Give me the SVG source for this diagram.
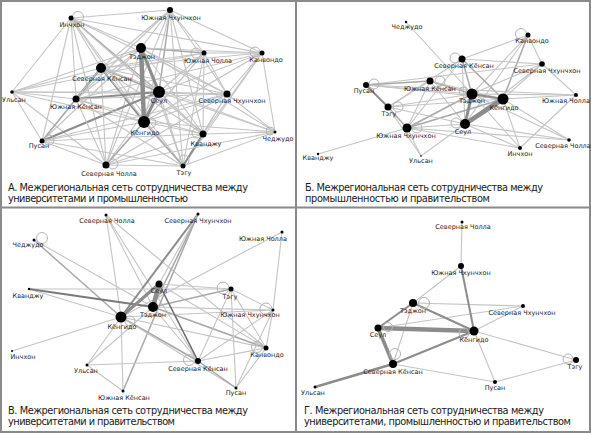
<svg xmlns="http://www.w3.org/2000/svg" width="591" height="433" viewBox="0 0 591 433">
<style>
.l1{stroke:#c4c4c4;stroke-width:1.1}
.l2{stroke:#a8a8a8;stroke-width:1.5}
.l3{stroke:#8c8c8c;stroke-width:2}
.l4{stroke:#8c8c8c;stroke-width:3}
.l5{stroke:#8c8c8c;stroke-width:4.5}
.loop{fill:none;stroke:#b4b4b4;stroke-width:1}
.lb{font-family:"DejaVu Sans",Verdana,sans-serif;font-size:6.5px;fill:#222;text-anchor:middle}
.cap{font-family:"DejaVu Sans",Verdana,sans-serif;font-size:9.8px;fill:#1a1a1a}
.frame{fill:none;stroke:#8a8a8a;stroke-width:2}
</style>
<rect x="0" y="0" width="591" height="433" fill="#fff"/>
<g id="frame">
<rect class="frame" x="1" y="1" width="589" height="431"/>
<line class="frame" x1="296" y1="0" x2="296" y2="433"/>
<line class="frame" x1="0" y1="207.5" x2="591" y2="207.5"/>
</g>

<g id="connectors-a">
<line class="l1" x1="71" y1="18" x2="170" y2="10"/>
<line class="l1" x1="71" y1="18" x2="262" y2="53"/>
<line class="l1" x1="71" y1="18" x2="141" y2="48"/>
<line class="l1" x1="71" y1="18" x2="101" y2="68"/>
<line class="l1" x1="71" y1="18" x2="12" y2="92"/>
<line class="l1" x1="71" y1="18" x2="42" y2="141"/>
<line class="l1" x1="71" y1="18" x2="106" y2="165"/>
<line class="l1" x1="71" y1="18" x2="76" y2="99"/>
<line class="l2" x1="71" y1="18" x2="159" y2="92"/>
<line class="l1" x1="71" y1="18" x2="144" y2="122"/>
<line class="l1" x1="71" y1="18" x2="227" y2="94"/>
<line class="l1" x1="71" y1="18" x2="203" y2="134"/>
<line class="l1" x1="71" y1="18" x2="183" y2="166"/>
<line class="l1" x1="170" y1="10" x2="262" y2="53"/>
<line class="l1" x1="170" y1="10" x2="141" y2="48"/>
<line class="l2" x1="170" y1="10" x2="159" y2="92"/>
<line class="l1" x1="170" y1="10" x2="144" y2="122"/>
<line class="l1" x1="170" y1="10" x2="101" y2="68"/>
<line class="l1" x1="170" y1="10" x2="203" y2="134"/>
<line class="l1" x1="170" y1="10" x2="183" y2="166"/>
<line class="l1" x1="170" y1="10" x2="106" y2="165"/>
<line class="l1" x1="170" y1="10" x2="227" y2="94"/>
<line class="l1" x1="170" y1="10" x2="76" y2="99"/>
<line class="l1" x1="170" y1="10" x2="204" y2="53"/>
<line class="l2" x1="141" y1="48" x2="204" y2="53"/>
<line class="l1" x1="141" y1="48" x2="262" y2="53"/>
<line class="l1" x1="141" y1="48" x2="101" y2="68"/>
<line class="l1" x1="141" y1="48" x2="227" y2="94"/>
<line class="l1" x1="141" y1="48" x2="203" y2="134"/>
<line class="l1" x1="141" y1="48" x2="42" y2="141"/>
<line class="l1" x1="141" y1="48" x2="76" y2="99"/>
<line class="l1" x1="141" y1="48" x2="12" y2="92"/>
<line class="l1" x1="141" y1="48" x2="183" y2="166"/>
<line class="l1" x1="141" y1="48" x2="106" y2="165"/>
<line class="l1" x1="141" y1="48" x2="275" y2="132"/>
<line class="l1" x1="204" y1="53" x2="262" y2="53"/>
<line class="l1" x1="204" y1="53" x2="101" y2="68"/>
<line class="l1" x1="204" y1="53" x2="203" y2="134"/>
<line class="l1" x1="204" y1="53" x2="159" y2="92"/>
<line class="l1" x1="204" y1="53" x2="144" y2="122"/>
<line class="l1" x1="204" y1="53" x2="227" y2="94"/>
<line class="l1" x1="204" y1="53" x2="183" y2="166"/>
<line class="l1" x1="204" y1="53" x2="12" y2="92"/>
<line class="l1" x1="204" y1="53" x2="106" y2="165"/>
<line class="l1" x1="262" y1="53" x2="159" y2="92"/>
<line class="l1" x1="262" y1="53" x2="227" y2="94"/>
<line class="l1" x1="262" y1="53" x2="203" y2="134"/>
<line class="l1" x1="262" y1="53" x2="275" y2="132"/>
<line class="l1" x1="262" y1="53" x2="144" y2="122"/>
<line class="l1" x1="262" y1="53" x2="183" y2="166"/>
<line class="l1" x1="262" y1="53" x2="101" y2="68"/>
<line class="l1" x1="262" y1="53" x2="76" y2="99"/>
<line class="l1" x1="101" y1="68" x2="12" y2="92"/>
<line class="l2" x1="101" y1="68" x2="159" y2="92"/>
<line class="l3" x1="101" y1="68" x2="76" y2="99"/>
<line class="l3" x1="101" y1="68" x2="144" y2="122"/>
<line class="l1" x1="101" y1="68" x2="227" y2="94"/>
<line class="l1" x1="101" y1="68" x2="42" y2="141"/>
<line class="l1" x1="101" y1="68" x2="203" y2="134"/>
<line class="l1" x1="101" y1="68" x2="106" y2="165"/>
<line class="l1" x1="101" y1="68" x2="183" y2="166"/>
<line class="l1" x1="101" y1="68" x2="275" y2="132"/>
<line class="l1" x1="12" y1="92" x2="159" y2="92"/>
<line class="l1" x1="12" y1="92" x2="76" y2="99"/>
<line class="l1" x1="12" y1="92" x2="42" y2="141"/>
<line class="l1" x1="12" y1="92" x2="106" y2="165"/>
<line class="l1" x1="12" y1="92" x2="144" y2="122"/>
<line class="l1" x1="12" y1="92" x2="227" y2="94"/>
<line class="l3" x1="159" y1="92" x2="76" y2="99"/>
<line class="l1" x1="159" y1="92" x2="227" y2="94"/>
<line class="l1" x1="159" y1="92" x2="203" y2="134"/>
<line class="l1" x1="159" y1="92" x2="275" y2="132"/>
<line class="l3" x1="159" y1="92" x2="42" y2="141"/>
<line class="l1" x1="159" y1="92" x2="106" y2="165"/>
<line class="l1" x1="159" y1="92" x2="183" y2="166"/>
<line class="l1" x1="76" y1="99" x2="144" y2="122"/>
<line class="l2" x1="76" y1="99" x2="42" y2="141"/>
<line class="l1" x1="76" y1="99" x2="106" y2="165"/>
<line class="l1" x1="76" y1="99" x2="203" y2="134"/>
<line class="l1" x1="76" y1="99" x2="227" y2="94"/>
<line class="l1" x1="76" y1="99" x2="183" y2="166"/>
<line class="l1" x1="227" y1="94" x2="144" y2="122"/>
<line class="l1" x1="227" y1="94" x2="203" y2="134"/>
<line class="l1" x1="227" y1="94" x2="275" y2="132"/>
<line class="l1" x1="227" y1="94" x2="42" y2="141"/>
<line class="l1" x1="227" y1="94" x2="106" y2="165"/>
<line class="l1" x1="227" y1="94" x2="183" y2="166"/>
<line class="l1" x1="144" y1="122" x2="42" y2="141"/>
<line class="l1" x1="144" y1="122" x2="203" y2="134"/>
<line class="l1" x1="144" y1="122" x2="275" y2="132"/>
<line class="l2" x1="144" y1="122" x2="106" y2="165"/>
<line class="l2" x1="144" y1="122" x2="183" y2="166"/>
<line class="l1" x1="42" y1="141" x2="106" y2="165"/>
<line class="l1" x1="42" y1="141" x2="203" y2="134"/>
<line class="l1" x1="42" y1="141" x2="183" y2="166"/>
<line class="l3" x1="203" y1="134" x2="183" y2="166"/>
<line class="l1" x1="203" y1="134" x2="275" y2="132"/>
<line class="l1" x1="203" y1="134" x2="106" y2="165"/>
<line class="l1" x1="275" y1="132" x2="183" y2="166"/>
<line class="l1" x1="275" y1="132" x2="106" y2="165"/>
<line class="l1" x1="106" y1="165" x2="183" y2="166"/>
<line class="l5" x1="141" y1="48" x2="144" y2="122"/>
<line class="l4" x1="141" y1="48" x2="159" y2="92"/>
<line class="l4" x1="159" y1="92" x2="144" y2="122"/>
<circle class="loop" cx="78" cy="17" r="5.5"/>
<circle class="loop" cx="196" cy="53" r="5"/>
<circle class="loop" cx="255" cy="52" r="5"/>
<circle class="loop" cx="49" cy="140" r="5"/>
<circle class="loop" cx="197" cy="133" r="5"/>
<circle class="loop" cx="270" cy="131" r="4"/>
<circle class="loop" cx="113" cy="164" r="5"/>
<circle class="loop" cx="184" cy="160" r="5"/>
<circle class="loop" cx="151" cy="123" r="5"/>
</g>

<g id="a-incheon"><circle cx="71" cy="18" r="2.5"/><text class="lb" x="72" y="27">Инчхон</text></g>
<g id="a-south-chungcheong"><circle cx="170" cy="10" r="3"/><text class="lb" x="171" y="20">Южная Чхунчхон</text></g>
<g id="a-daejeon"><circle cx="141" cy="48" r="5"/><text class="lb" x="142" y="59">Тэджон</text></g>
<g id="a-south-jeolla"><circle cx="204" cy="53" r="2.5"/><text class="lb" x="208" y="63">Южная Чолла</text></g>
<g id="a-gangwon"><circle cx="262" cy="53" r="2.5"/><text class="lb" x="266" y="62">Канвондо</text></g>
<g id="a-north-gyeongsang"><circle cx="101" cy="68" r="5"/><text class="lb" x="102" y="81">Северная Кёнсан</text></g>
<g id="a-ulsan"><circle cx="12" cy="92" r="1.8"/><text class="lb" x="14" y="102">Ульсан</text></g>
<g id="a-seoul"><circle cx="159" cy="92" r="6"/><text class="lb" x="159" y="103">Сеул</text></g>
<g id="a-south-gyeongsang"><circle cx="76" cy="99" r="3.5"/><text class="lb" x="76" y="109">Южная Кёнсан</text></g>
<g id="a-north-chungcheong"><circle cx="227" cy="94" r="3.5"/><text class="lb" x="232" y="103">Северная Чхунчхон</text></g>
<g id="a-gyeonggi"><circle cx="144" cy="122" r="6"/><text class="lb" x="145" y="135">Кёнгидо</text></g>
<g id="a-busan"><circle cx="42" cy="141" r="2.5"/><text class="lb" x="39" y="148">Пусан</text></g>
<g id="a-gwangju"><circle cx="203" cy="134" r="3.5"/><text class="lb" x="206" y="146">Кванджу</text></g>
<g id="a-jeju"><circle cx="275" cy="132" r="1.5"/><text class="lb" x="278" y="141">Чеджудо</text></g>
<g id="a-north-jeolla"><circle cx="106" cy="165" r="3.5"/><text class="lb" x="109" y="176">Северная Чолла</text></g>
<g id="a-daegu"><circle cx="183" cy="166" r="2.5"/><text class="lb" x="184" y="175">Тэгу</text></g>
<g id="caption-a">
<text class="cap" x="8" y="191" textLength="240">А. Межрегиональная сеть сотрудничества между</text>
<text class="cap" x="8" y="201.5" textLength="180">университетами и промышленностью</text>
</g>

<g id="connectors-b">
<line class="l1" x1="406" y1="22" x2="472" y2="94"/>
<line class="l1" x1="528" y1="35" x2="462" y2="59"/>
<line class="l1" x1="528" y1="35" x2="472" y2="94"/>
<line class="l2" x1="528" y1="35" x2="503" y2="99"/>
<line class="l1" x1="528" y1="35" x2="542" y2="64"/>
<line class="l1" x1="528" y1="35" x2="465" y2="124"/>
<line class="l1" x1="462" y1="59" x2="542" y2="64"/>
<line class="l2" x1="462" y1="59" x2="472" y2="94"/>
<line class="l2" x1="462" y1="59" x2="503" y2="99"/>
<line class="l1" x1="462" y1="59" x2="465" y2="124"/>
<line class="l1" x1="462" y1="59" x2="407" y2="128"/>
<line class="l1" x1="462" y1="59" x2="388" y2="107"/>
<line class="l1" x1="542" y1="64" x2="366" y2="85"/>
<line class="l1" x1="542" y1="64" x2="503" y2="99"/>
<line class="l1" x1="542" y1="64" x2="472" y2="94"/>
<line class="l1" x1="542" y1="64" x2="465" y2="124"/>
<line class="l1" x1="542" y1="64" x2="576" y2="95"/>
<line class="l2" x1="430" y1="81" x2="366" y2="85"/>
<line class="l2" x1="430" y1="81" x2="472" y2="94"/>
<line class="l1" x1="430" y1="81" x2="503" y2="99"/>
<line class="l1" x1="430" y1="81" x2="465" y2="124"/>
<line class="l1" x1="430" y1="81" x2="407" y2="128"/>
<line class="l1" x1="430" y1="81" x2="388" y2="107"/>
<line class="l3" x1="366" y1="85" x2="388" y2="107"/>
<line class="l1" x1="366" y1="85" x2="503" y2="99"/>
<line class="l1" x1="366" y1="85" x2="472" y2="94"/>
<line class="l1" x1="366" y1="85" x2="576" y2="95"/>
<line class="l1" x1="503" y1="99" x2="576" y2="95"/>
<line class="l1" x1="503" y1="99" x2="569" y2="140"/>
<line class="l1" x1="503" y1="99" x2="520" y2="148"/>
<line class="l2" x1="503" y1="99" x2="407" y2="128"/>
<line class="l1" x1="472" y1="94" x2="388" y2="107"/>
<line class="l2" x1="472" y1="94" x2="407" y2="128"/>
<line class="l1" x1="472" y1="94" x2="520" y2="148"/>
<line class="l1" x1="472" y1="94" x2="569" y2="140"/>
<line class="l1" x1="472" y1="94" x2="576" y2="95"/>
<line class="l1" x1="465" y1="124" x2="407" y2="128"/>
<line class="l1" x1="465" y1="124" x2="520" y2="148"/>
<line class="l1" x1="465" y1="124" x2="569" y2="140"/>
<line class="l1" x1="465" y1="124" x2="421" y2="156"/>
<line class="l1" x1="465" y1="124" x2="388" y2="107"/>
<line class="l2" x1="388" y1="107" x2="407" y2="128"/>
<line class="l1" x1="388" y1="107" x2="503" y2="99"/>
<line class="l1" x1="388" y1="107" x2="421" y2="156"/>
<line class="l1" x1="407" y1="128" x2="318" y2="154"/>
<line class="l1" x1="407" y1="128" x2="421" y2="156"/>
<line class="l1" x1="407" y1="128" x2="520" y2="148"/>
<line class="l1" x1="407" y1="128" x2="569" y2="140"/>
<line class="l1" x1="520" y1="148" x2="576" y2="95"/>
<line class="l3" x1="472" y1="94" x2="503" y2="99"/>
<line class="l4" x1="472" y1="94" x2="465" y2="124"/>
<line class="l5" x1="503" y1="99" x2="465" y2="124"/>
<circle class="loop" cx="521" cy="34" r="5.5"/>
<circle class="loop" cx="455" cy="58" r="5"/>
<circle class="loop" cx="374" cy="84" r="5"/>
<circle class="loop" cx="440" cy="81" r="5"/>
<circle class="loop" cx="398" cy="107" r="5"/>
<circle class="loop" cx="417" cy="128" r="5"/>
<circle class="loop" cx="456" cy="123" r="5"/>
<circle class="loop" cx="463" cy="91" r="4"/>
</g>

<g id="b-jeju"><circle cx="406" cy="22" r="1.2"/><text class="lb" x="407" y="29">Чеджудо</text></g>
<g id="b-gangwon"><circle cx="528" cy="35" r="2.5"/><text class="lb" x="532" y="43">Канвондо</text></g>
<g id="b-north-gyeongsang"><circle cx="462" cy="59" r="3.5"/><text class="lb" x="464" y="68">Северная Кёнсан</text></g>
<g id="b-north-chungcheong"><circle cx="542" cy="64" r="2.8"/><text class="lb" x="547" y="73">Северная Чхунчхон</text></g>
<g id="b-busan"><circle cx="366" cy="85" r="3"/><text class="lb" x="364" y="93">Пусан</text></g>
<g id="b-south-gyeongsang"><circle cx="430" cy="81" r="3.5"/><text class="lb" x="430" y="91">Южная Кёнсан</text></g>
<g id="b-daejeon"><circle cx="472" cy="94" r="5.5"/><text class="lb" x="472" y="103">Тэджон</text></g>
<g id="b-gyeonggi"><circle cx="503" cy="99" r="5.5"/><text class="lb" x="504" y="110">Кёнгидо</text></g>
<g id="b-south-jeolla"><circle cx="576" cy="95" r="2"/><text class="lb" x="566" y="103">Южная Чолла</text></g>
<g id="b-daegu"><circle cx="388" cy="107" r="3.5"/><text class="lb" x="389" y="116">Тэгу</text></g>
<g id="b-south-chungcheong"><circle cx="407" cy="128" r="4.5"/><text class="lb" x="406" y="138">Южная Чхунчхон</text></g>
<g id="b-seoul"><circle cx="465" cy="124" r="5"/><text class="lb" x="463" y="134">Сеул</text></g>
<g id="b-north-jeolla"><circle cx="569" cy="140" r="1.8"/><text class="lb" x="563" y="148">Северная Чолла</text></g>
<g id="b-incheon"><circle cx="520" cy="148" r="2"/><text class="lb" x="520" y="156">Инчхон</text></g>
<g id="b-gwangju"><circle cx="318" cy="154" r="1.2"/><text class="lb" x="318" y="160">Кванджу</text></g>
<g id="b-ulsan"><circle cx="421" cy="156" r="0.8"/><text class="lb" x="421" y="163">Ульсан</text></g>
<g id="caption-b">
<text class="cap" x="305" y="191" textLength="238">Б. Межрегиональная сеть сотрудничества между</text>
<text class="cap" x="305" y="201.5" textLength="185">промышленностью и правительством</text>
</g>

<g id="connectors-c">
<line class="l2" x1="34" y1="240" x2="121" y2="317"/>
<line class="l1" x1="34" y1="240" x2="153" y2="307"/>
<line class="l1" x1="106" y1="215" x2="121" y2="317"/>
<line class="l1" x1="106" y1="215" x2="153" y2="307"/>
<line class="l1" x1="106" y1="215" x2="198" y2="361"/>
<line class="l1" x1="106" y1="215" x2="266" y2="348"/>
<line class="l3" x1="198" y1="214" x2="121" y2="317"/>
<line class="l2" x1="198" y1="214" x2="153" y2="307"/>
<line class="l1" x1="198" y1="214" x2="159" y2="284"/>
<line class="l2" x1="198" y1="214" x2="123" y2="391"/>
<line class="l1" x1="282" y1="232" x2="121" y2="317"/>
<line class="l1" x1="282" y1="232" x2="273" y2="310"/>
<line class="l1" x1="29" y1="289" x2="231" y2="289"/>
<line class="l1" x1="29" y1="289" x2="121" y2="317"/>
<line class="l1" x1="159" y1="284" x2="231" y2="289"/>
<line class="l1" x1="159" y1="284" x2="266" y2="348"/>
<line class="l2" x1="153" y1="307" x2="231" y2="289"/>
<line class="l1" x1="153" y1="307" x2="273" y2="310"/>
<line class="l2" x1="153" y1="307" x2="266" y2="348"/>
<line class="l1" x1="153" y1="307" x2="198" y2="361"/>
<line class="l1" x1="153" y1="307" x2="87" y2="365"/>
<line class="l1" x1="121" y1="317" x2="12" y2="351"/>
<line class="l1" x1="121" y1="317" x2="87" y2="365"/>
<line class="l1" x1="121" y1="317" x2="123" y2="391"/>
<line class="l2" x1="121" y1="317" x2="198" y2="361"/>
<line class="l1" x1="121" y1="317" x2="266" y2="348"/>
<line class="l1" x1="121" y1="317" x2="236" y2="388"/>
<line class="l1" x1="121" y1="317" x2="273" y2="310"/>
<line class="l1" x1="87" y1="365" x2="198" y2="361"/>
<line class="l1" x1="87" y1="365" x2="123" y2="391"/>
<line class="l2" x1="198" y1="361" x2="236" y2="388"/>
<line class="l1" x1="198" y1="361" x2="266" y2="348"/>
<line class="l1" x1="198" y1="361" x2="231" y2="289"/>
<line class="l1" x1="198" y1="361" x2="273" y2="310"/>
<line class="l1" x1="266" y1="348" x2="273" y2="310"/>
<line class="l1" x1="266" y1="348" x2="236" y2="388"/>
<line class="l1" x1="266" y1="348" x2="231" y2="289"/>
<line class="l1" x1="236" y1="388" x2="273" y2="310"/>
<line class="l1" x1="236" y1="388" x2="231" y2="289"/>
<line class="l1" x1="231" y1="289" x2="273" y2="310"/>
<line class="l3" x1="29" y1="289" x2="153" y2="307" style="stroke:#7a7a7a"/>
<line class="l3" x1="159" y1="284" x2="198" y2="361" style="stroke:#6e6e6e;stroke-width:1.6"/>
<line class="l4" x1="159" y1="284" x2="121" y2="317"/>
<line class="l5" x1="159" y1="284" x2="153" y2="307"/>
<circle class="loop" cx="42" cy="238" r="5.5"/>
<circle class="loop" cx="223" cy="288" r="6"/>
<circle class="loop" cx="266" cy="309" r="6"/>
<circle class="loop" cx="257" cy="347" r="5.5"/>
<circle class="loop" cx="189" cy="360" r="5.5"/>
<circle class="loop" cx="130" cy="321" r="5"/>
</g>

<g id="c-north-jeolla"><circle cx="106" cy="215" r="1.5"/><text class="lb" x="107" y="223">Северная Чолла</text></g>
<g id="c-north-chungcheong"><circle cx="198" cy="214" r="1.5"/><text class="lb" x="198" y="223">Северная Чхунчхон</text></g>
<g id="c-jeju"><circle cx="34" cy="240" r="1.5"/><text class="lb" x="28" y="247">Чеджудо</text></g>
<g id="c-south-jeolla"><circle cx="282" cy="232" r="1.5"/><text class="lb" x="263" y="241">Южная Чолла</text></g>
<g id="c-seoul"><circle cx="159" cy="284" r="3.5"/><text class="lb" x="159" y="293">Сеул</text></g>
<g id="c-gwangju"><circle cx="29" cy="289" r="1.2"/><text class="lb" x="28" y="298">Кванджу</text></g>
<g id="c-daegu"><circle cx="231" cy="289" r="2.5"/><text class="lb" x="230" y="299">Тэгу</text></g>
<g id="c-daejeon"><circle cx="153" cy="307" r="5"/><text class="lb" x="153" y="317">Тэджон</text></g>
<g id="c-south-chungcheong"><circle cx="273" cy="310" r="1.5"/><text class="lb" x="250" y="317">Южная Чхунчхон</text></g>
<g id="c-gyeonggi"><circle cx="121" cy="317" r="5.5"/><text class="lb" x="122" y="329">Кёнгидо</text></g>
<g id="c-incheon"><circle cx="12" cy="351" r="1"/><text class="lb" x="23" y="359">Инчхон</text></g>
<g id="c-gangwon"><circle cx="266" cy="348" r="2.5"/><text class="lb" x="267" y="357">Канвондо</text></g>
<g id="c-ulsan"><circle cx="87" cy="365" r="1.5"/><text class="lb" x="86" y="373">Ульсан</text></g>
<g id="c-north-gyeongsang"><circle cx="198" cy="361" r="3"/><text class="lb" x="198" y="371">Северная Кёнсан</text></g>
<g id="c-busan"><circle cx="236" cy="388" r="1.5"/><text class="lb" x="236" y="395">Пусан</text></g>
<g id="c-south-gyeongsang"><circle cx="123" cy="391" r="1.5"/><text class="lb" x="124" y="400">Южная Кёнсан</text></g>
<g id="caption-c">
<text class="cap" x="8" y="414" textLength="240">В. Межрегиональная сеть сотрудничества между</text>
<text class="cap" x="8" y="424.5" textLength="167">университетами и правительством</text>
</g>

<g id="connectors-d">
<line class="l1" x1="462" y1="222" x2="461" y2="266"/>
<line class="l1" x1="461" y1="266" x2="413" y2="303"/>
<line class="l1" x1="413" y1="303" x2="523" y2="306"/>
<line class="l1" x1="413" y1="303" x2="393" y2="364"/>
<line class="l1" x1="378" y1="328" x2="523" y2="306"/>
<line class="l1" x1="474" y1="331" x2="523" y2="306"/>
<line class="l1" x1="474" y1="331" x2="576" y2="360"/>
<line class="l1" x1="474" y1="331" x2="495" y2="382"/>
<line class="l1" x1="393" y1="364" x2="495" y2="382"/>
<line class="l1" x1="495" y1="382" x2="576" y2="360"/>
<line class="l3" x1="461" y1="266" x2="474" y2="331"/>
<line class="l3" x1="413" y1="303" x2="474" y2="331"/>
<line class="l3" x1="413" y1="303" x2="378" y2="328"/>
<line class="l3" x1="474" y1="331" x2="393" y2="364"/>
<line class="l3" x1="393" y1="364" x2="315" y2="387" style="stroke-width:2.4"/>
<line class="l4" x1="378" y1="328" x2="393" y2="364" style="stroke-width:3.5"/>
<line class="l5" x1="378" y1="328" x2="474" y2="331"/>
<circle class="loop" cx="424" cy="303" r="5.5"/>
<circle class="loop" cx="388" cy="327" r="4.5"/>
<circle class="loop" cx="464" cy="333" r="5"/>
<circle class="loop" cx="395" cy="354" r="5.5"/>
<circle class="loop" cx="568" cy="359" r="5"/>
</g>

<g id="d-north-jeolla"><circle cx="462" cy="222" r="1.5"/><text class="lb" x="463" y="229">Северная Чолла</text></g>
<g id="d-south-chungcheong"><circle cx="461" cy="266" r="3"/><text class="lb" x="461" y="275">Южная Чхунчхон</text></g>
<g id="d-daejeon"><circle cx="413" cy="303" r="4"/><text class="lb" x="413" y="313">Тэджон</text></g>
<g id="d-north-chungcheong"><circle cx="523" cy="306" r="2"/><text class="lb" x="522" y="315">Северная Чхунчхон</text></g>
<g id="d-seoul"><circle cx="378" cy="328" r="3.5"/><text class="lb" x="378" y="337">Сеул</text></g>
<g id="d-gyeonggi"><circle cx="474" cy="331" r="4.5"/><text class="lb" x="474" y="342">Кёнгидо</text></g>
<g id="d-north-gyeongsang"><circle cx="393" cy="364" r="4"/><text class="lb" x="393" y="374">Северная Кёнсан</text></g>
<g id="d-daegu"><circle cx="576" cy="360" r="3"/><text class="lb" x="575" y="369">Тэгу</text></g>
<g id="d-busan"><circle cx="495" cy="382" r="2"/><text class="lb" x="495" y="390">Пусан</text></g>
<g id="d-ulsan"><circle cx="315" cy="387" r="1.5"/><text class="lb" x="313" y="395">Ульсан</text></g>
<g id="caption-d">
<text class="cap" x="304" y="414" textLength="240">Г. Межрегиональная сеть сотрудничества между</text>
<text class="cap" x="304" y="424.5" textLength="267">университетами, промышленностью и правительством</text>
</g>
</svg>
